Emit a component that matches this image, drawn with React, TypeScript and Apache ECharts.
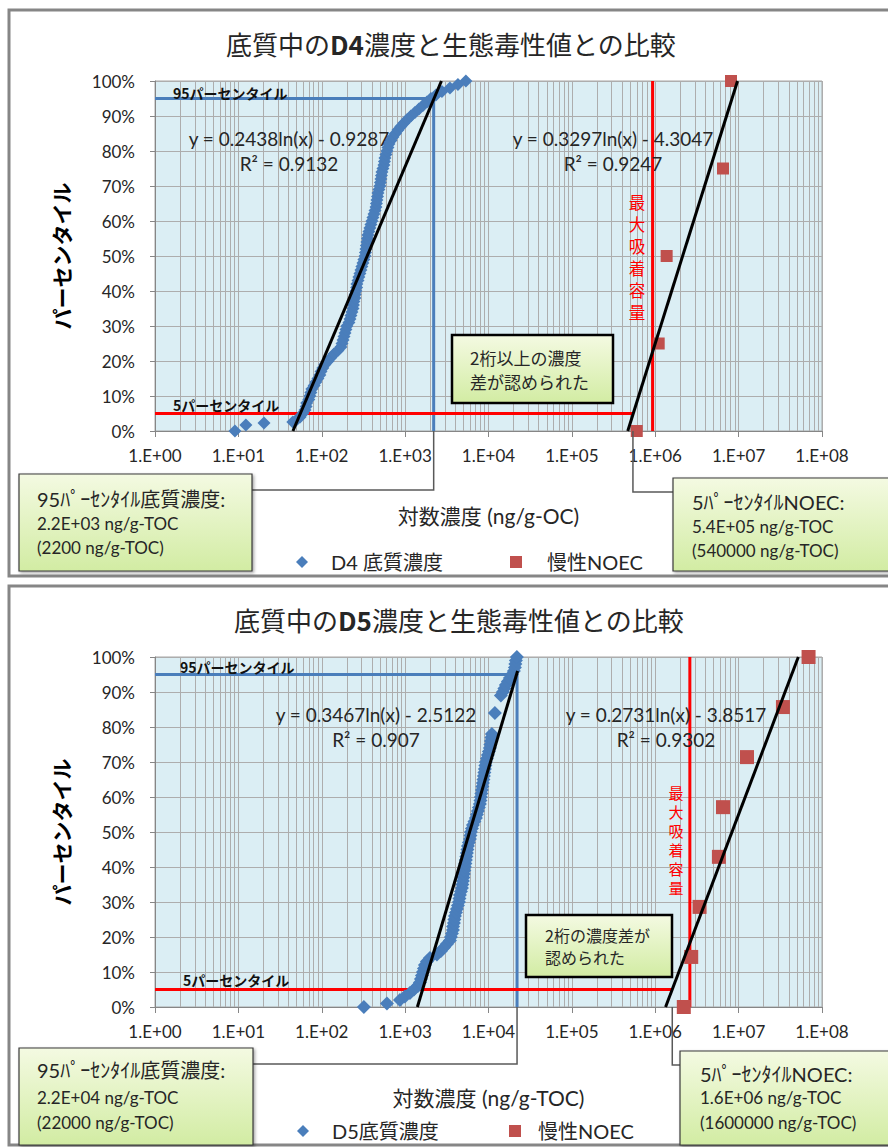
import React, { useEffect, useRef } from "react";
import * as echarts from "echarts";

const LAT = "Lato, 'Noto Sans CJK JP', sans-serif";
const JP = "'Noto Sans CJK JP', sans-serif";

// ---- axis ticks ----
const xDecadeExps = [0, 1, 2, 3, 4, 5, 6, 7];
const minorMultipliers = [2, 3, 4, 5, 6, 7, 8, 9];

// ---- D4 data: [concentration (ng/g-OC), percentile] ----
const d4Sediment: [number, number][] = [
  [9.1, 0], [12.3, 0.017], [20.3, 0.023], [45, 0.026], [49, 0.03], [55, 0.04], [59, 0.05],
  [63, 0.06], [65, 0.07], [66, 0.08], [70, 0.09], [72, 0.1], [74, 0.11], [76, 0.12],
  [81, 0.13], [85, 0.14], [90, 0.15], [95, 0.16], [98, 0.17], [103, 0.18], [109, 0.19],
  [119, 0.2], [129, 0.21], [140, 0.22], [156, 0.23], [170, 0.24], [175, 0.25], [180, 0.26],
  [185, 0.27], [190, 0.28], [195, 0.29], [200, 0.3], [212, 0.31], [218, 0.32], [224, 0.33],
  [230, 0.34], [237, 0.35], [240, 0.36], [243, 0.37], [250, 0.38], [252, 0.39], [257, 0.4],
  [262, 0.41], [264, 0.42], [272, 0.43], [279, 0.44], [287, 0.45], [295, 0.46], [303, 0.47],
  [312, 0.48], [320, 0.49], [330, 0.5], [334, 0.51], [339, 0.52], [343, 0.53], [348, 0.54],
  [353, 0.55], [358, 0.56], [368, 0.57], [378, 0.58], [389, 0.59], [400, 0.6], [411, 0.61],
  [423, 0.62], [435, 0.63], [447, 0.64], [453, 0.65], [459, 0.66], [466, 0.67], [472, 0.68],
  [485, 0.69], [499, 0.7], [506, 0.71], [513, 0.72], [520, 0.73], [527, 0.74], [542, 0.75],
  [557, 0.76], [565, 0.77], [573, 0.78], [589, 0.79], [605, 0.8], [622, 0.81], [640, 0.82],
  [676, 0.83], [714, 0.84], [765, 0.85], [820, 0.86], [890, 0.87], [967, 0.88], [1060, 0.89],
  [1173, 0.9], [1311, 0.91], [1464, 0.92], [1635, 0.93], [1826, 0.94],
  [2039, 0.95], [2341, 0.96], [2762, 0.97], [3445, 0.98], [4297, 0.99], [5358, 1.0],
];
const d4Noec: [number, number][] = [
  [6.0e5, 0], [1.1e6, 0.25], [1.37e6, 0.5], [6.5e6, 0.75], [8.1e6, 1.0],
];
const d4SedTrend: [number, number][] = [[45.1, 0], [2726, 1]];
const d4NoecTrend: [number, number][] = [[4.68e5, 0], [9.7e6, 1]];
const d4P95 = 2200;
const d4P5Noec = 5.4e5;
const d4MaxAdsorption = 9.3e5;

// ---- D5 data: [concentration (ng/g-TOC), percentile] ----
const d5Sediment: [number, number][] = [
  [320, 0], [605, 0.01], [866, 0.02], [994, 0.03], [1142, 0.04], [1275, 0.05], [1424, 0.06],
  [1505, 0.07], [1547, 0.08], [1590, 0.09], [1635, 0.1], [1680, 0.11], [1728, 0.12],
  [1826, 0.13], [1984, 0.14], [2406, 0.15], [2687, 0.16], [2920, 0.17], [3172, 0.18],
  [3445, 0.19], [3541, 0.2], [3640, 0.21], [3743, 0.22], [3760, 0.23], [3847, 0.24],
  [3900, 0.25], [3955, 0.26], [4070, 0.27], [4180, 0.28], [4300, 0.29], [4418, 0.3],
  [4480, 0.31], [4542, 0.32], [4670, 0.33], [4800, 0.34], [4860, 0.35], [4932, 0.36],
  [5000, 0.37], [5070, 0.38], [5140, 0.39], [5213, 0.4], [5285, 0.41], [5358, 0.42],
  [5430, 0.43], [5508, 0.44], [5585, 0.45], [5663, 0.46], [5820, 0.47], [5984, 0.48],
  [6070, 0.49], [6152, 0.5], [6330, 0.51], [6502, 0.52], [6780, 0.53], [7063, 0.54],
  [7260, 0.55], [7464, 0.56], [7670, 0.57], [7886, 0.58], [8000, 0.59], [8108, 0.6],
  [8220, 0.61], [8335, 0.62], [8450, 0.63], [8568, 0.64], [8690, 0.65], [8808, 0.66],
  [8930, 0.67], [9055, 0.68], [9180, 0.69], [9308, 0.7], [9570, 0.71], [9835, 0.72],
  [10110, 0.73], [10394, 0.74], [10540, 0.75], [10685, 0.76], [10830, 0.77], [10985, 0.78],
  [11930, 0.84], [14082, 0.89], [14880, 0.9], [15500, 0.91], [16170, 0.92], [17085, 0.93],
  [18057, 0.94], [19081, 0.95], [20165, 0.96], [20730, 0.97], [21000, 0.98],
  [21310, 0.99], [21903, 1.0],
];
const d5Noec: [number, number][] = [
  [2.2e6, 0], [2.7e6, 0.143], [3.4e6, 0.286], [5.8e6, 0.429], [6.5e6, 0.571],
  [1.26e7, 0.714], [3.4e7, 0.857], [6.9e7, 1.0],
];
const d5SedTrend: [number, number][] = [[1403, 0], [22340, 0.96]];
const d5NoecTrend: [number, number][] = [[1.33e6, 0], [5.2e7, 1]];
const d5P95 = 22000;
const d5P5Noec = 1.6e6;
const d5MaxAdsorption = 2.6e6;

// ---- text ----
const adsorptionChars = ["最", "大", "吸", "着", "容", "量"];
const d4Texts = {
  titleBold: "D4",
  xName: "対数濃度 (ng/g-OC)",
  sedName: "D4 底質濃度",
  noecName: "慢性NOEC",
  eqSed: ["y = 0.2438ln(x) - 0.9287", "R² = 0.9132"],
  eqNoec: ["y = 0.3297ln(x) - 4.3047", "R² = 0.9247"],
  center: ["2桁以上の濃度", "差が認められた"],
  left: ["95ﾊﾟｰｾﾝﾀｲﾙ底質濃度:", "2.2E+03 ng/g-TOC", "(2200 ng/g-TOC)"],
  right: ["5ﾊﾟｰｾﾝﾀｲﾙNOEC:", "5.4E+05 ng/g-TOC", "(540000 ng/g-TOC)"],
};
const d5Texts = {
  titleBold: "D5",
  xName: "対数濃度 (ng/g-TOC)",
  sedName: "D5底質濃度",
  noecName: "慢性NOEC",
  eqSed: ["y = 0.3467ln(x) - 2.5122", "R² = 0.907"],
  eqNoec: ["y = 0.2731ln(x) - 3.8517", "R² = 0.9302"],
  center: ["2桁の濃度差が", "認められた"],
  left: ["95ﾊﾟｰｾﾝﾀｲﾙ底質濃度:", "2.2E+04 ng/g-TOC", "(22000 ng/g-TOC)"],
  right: ["5ﾊﾟｰｾﾝﾀｲﾙNOEC:", "1.6E+06 ng/g-TOC", "(1600000 ng/g-TOC)"],
};

const BLUE = "#4A7EBB";
const RED_MARK = "#C0504D";
const GRIDLINE = "#adadad";
const AXIS = "#868686";
const TXT = "#262626";

const panels = [
  {
    data: { sed: d4Sediment, noec: d4Noec, sedTrend: d4SedTrend, noecTrend: d4NoecTrend, p95: d4P95, p5: d4P5Noec, maxAds: d4MaxAdsorption },
    t: d4Texts,
    L: {
      gridTop: 81, frame: [9, 10, 893, 566], titleLeft: 221, titleTop: 25,
      xNameGap: 74, sedSize: 13, noecSize: 12,
      legendTop: 552, legendSedLeft: 296, legendNoecLeft: 510, legendSedPad: 18, legendNoecPad: 20,
      eqSed: [289, 138, 163], eqNoec: [613, 138, 163],
      lab95: [173, 93], lab5: [173, 405],
      ads: [637, 202, 22, 16.5],
      centerBox: [452, 335, 161, 68], centerText: [470, 357, 381, 17],
      leftBox: [19, 474, 233, 97], leftText: [37, 499, 523, 547],
      rightBox: [673, 478, 220, 93], rightText: [692, 502, 526, 550],
      leaderLeftY: 490, leaderRightY: 492,
    },
  },
  {
    data: { sed: d5Sediment, noec: d5Noec, sedTrend: d5SedTrend, noecTrend: d5NoecTrend, p95: d5P95, p5: d5P5Noec, maxAds: d5MaxAdsorption },
    t: d5Texts,
    L: {
      gridTop: 657, frame: [9, 586, 893, 559], titleLeft: 229, titleTop: 601,
      xNameGap: 80, sedSize: 14, noecSize: 14,
      legendTop: 1121, legendSedLeft: 297, legendNoecLeft: 509, legendSedPad: 18, legendNoecPad: 12,
      eqSed: [376, 714, 739], eqNoec: [666, 714, 739],
      lab95: [180, 667], lab5: [183, 980],
      ads: [676, 792, 19, 15],
      centerBox: [526, 915, 146, 62], centerText: [545, 935, 957, 16],
      leftBox: [19, 1048, 234, 97], leftText: [37, 1070, 1097, 1122],
      rightBox: [680, 1051, 213, 94], rightText: [700, 1074, 1097, 1122],
      leaderLeftY: 1064, leaderRightY: 1065,
    },
  },
];

const minorValues: number[] = [];
xDecadeExps.forEach((e) => minorMultipliers.forEach((m) => minorValues.push(m * Math.pow(10, e))));

function buildOption() {
  const grid: any[] = [];
  const xAxis: any[] = [];
  const yAxis: any[] = [];
  const series: any[] = [];
  const legend: any[] = [];
  const title: any[] = [];

  panels.forEach((p, i) => {
    const { data, t, L } = p;
    grid.push({
      left: 155, top: L.gridTop, width: 667, height: 350,
      show: true, backgroundColor: "#DBEEF4", borderColor: "#a6a6a6", borderWidth: 1,
      outerBoundsMode: "none",
    });
    xAxis.push({
      type: "log", logBase: 10, min: 1, max: 1e8, splitNumber: 8, gridIndex: i,
      axisLine: { show: true, onZero: false, lineStyle: { color: AXIS, width: 1 } },
      axisTick: { show: true, length: 6, lineStyle: { color: AXIS } },
      splitLine: { show: true, lineStyle: { color: GRIDLINE, width: 1 } },
      axisLabel: {
        margin: 16, fontSize: 17, fontFamily: LAT, color: TXT,
        formatter: (v: number) => "1.E+" + String(Math.round(Math.log10(v))).padStart(2, "0"),
      },
      name: t.xName, nameLocation: "middle", nameGap: L.xNameGap,
      nameTextStyle: { fontSize: 21, fontFamily: LAT, color: TXT },
    });
    yAxis.push({
      type: "value", min: 0, max: 1, interval: 0.1, gridIndex: i,
      axisLine: { show: true, lineStyle: { color: AXIS, width: 1 } },
      axisTick: { show: true, length: 5, lineStyle: { color: AXIS } },
      splitLine: { show: true, lineStyle: { color: GRIDLINE, width: 1 } },
      axisLabel: {
        margin: 20, fontSize: 17, fontFamily: LAT, color: TXT,
        formatter: (v: number) => Math.round(v * 100) + "%",
      },
      name: "パーセンタイル", nameLocation: "middle", nameGap: 84,
      nameTextStyle: { fontSize: 21, fontFamily: JP, fontWeight: "bold", color: "#000" },
    });

    const ax = { xAxisIndex: i, yAxisIndex: i };
    // minor log grid lines (kept beneath every mark)
    series.push({
      type: "line", ...ax, data: [[1, 0]], symbol: "none", silent: true,
      lineStyle: { width: 0, opacity: 0 }, z: 1,
      markLine: {
        z: 1, silent: true, symbol: ["none", "none"], label: { show: false }, animation: false,
        lineStyle: { color: GRIDLINE, width: 1, type: "solid" },
        emphasis: { disabled: true },
        data: minorValues.map((v) => ({ xAxis: v })),
      },
    });
    // reference lines
    series.push({
      type: "line", ...ax, symbol: "none", silent: true, z: 2,
      lineStyle: { color: BLUE, width: 3 },
      data: [[1, 0.95], [data.p95, 0.95], [data.p95, 0]],
    });
    series.push({
      type: "line", ...ax, symbol: "none", silent: true, z: 2,
      lineStyle: { color: "#FF0000", width: 3 },
      data: [[1, 0.05], [data.p5, 0.05]],
    });
    series.push({
      type: "line", ...ax, symbol: "none", silent: true, z: 2,
      lineStyle: { color: "#FF0000", width: 3 },
      data: [[data.maxAds, 0], [data.maxAds, 1]],
    });
    // points
    series.push({
      type: "scatter", name: t.sedName, ...ax, symbol: "diamond", symbolSize: L.sedSize,
      itemStyle: { color: BLUE, opacity: 1 }, data: data.sed, z: 6, clip: false,
    });
    series.push({
      type: "scatter", name: t.noecName, ...ax, symbol: "rect", symbolSize: L.noecSize,
      itemStyle: { color: RED_MARK, opacity: 1 }, data: data.noec, z: 6, clip: false,
    });
    // trend lines
    series.push({
      type: "line", ...ax, symbol: "none", silent: true, z: 7,
      lineStyle: { color: "#000", width: 3 }, data: data.sedTrend,
    });
    series.push({
      type: "line", ...ax, symbol: "none", silent: true, z: 7,
      lineStyle: { color: "#000", width: 3 }, data: data.noecTrend,
    });

    legend.push({
      left: L.legendSedLeft, top: L.legendTop, itemWidth: 12, itemHeight: 12, padding: 0,
      selectedMode: false,
      data: [{ name: t.sedName, icon: "diamond", itemStyle: { color: BLUE, opacity: 1 } }],
      textStyle: { fontSize: 20, fontFamily: LAT, color: TXT, padding: [0, 0, 0, L.legendSedPad] },
    });
    legend.push({
      left: L.legendNoecLeft, top: L.legendTop, itemWidth: 12, itemHeight: 12, padding: 0,
      selectedMode: false,
      data: [{ name: t.noecName, icon: "rect", itemStyle: { color: RED_MARK, opacity: 1 } }],
      textStyle: { fontSize: 20, fontFamily: LAT, color: TXT, padding: [0, 0, 0, L.legendNoecPad] },
    });

    title.push({
      text: "底質中の{b|" + t.titleBold + "}濃度と生態毒性値との比較",
      left: L.titleLeft, top: L.titleTop,
      textStyle: {
        fontSize: 26, fontFamily: JP, fontWeight: "normal", color: TXT,
        rich: { b: { fontSize: 26, fontFamily: JP, fontWeight: "bold", color: TXT } },
      },
    });
  });

  return { animation: false, grid, xAxis, yAxis, series, legend, title };
}

function boxFill() {
  return new echarts.graphic.LinearGradient(0, 0, 0, 1, [
    { offset: 0, color: "#F4FAE2" },
    { offset: 1, color: "#D2ECA3" },
  ]);
}

function buildGraphics(chart: any) {
  const g: any[] = [];
  panels.forEach((p, i) => {
    const { data, t, L } = p;
    const xp = (v: number) => chart.convertToPixel({ xAxisIndex: i }, v) as number;
    const axisY = L.gridTop + 350;

    g.push({
      type: "rect", z: 100, silent: true,
      shape: { x: L.frame[0], y: L.frame[1], width: L.frame[2], height: L.frame[3] },
      style: { fill: "none", stroke: "#868686", lineWidth: 3 },
    });

    const txt = (x: number, y: number, text: string, extra: any = {}) => ({
      type: "text", z: 110, silent: true,
      style: { x, y, text, fill: TXT, fontSize: 16, fontFamily: LAT, align: "left", verticalAlign: "middle", ...extra },
    });

    // equations
    g.push(txt(L.eqSed[0], L.eqSed[1], t.eqSed[0], { align: "center", fontSize: 19 }));
    g.push(txt(L.eqSed[0], L.eqSed[2], t.eqSed[1], { align: "center", fontSize: 19 }));
    g.push(txt(L.eqNoec[0], L.eqNoec[1], t.eqNoec[0], { align: "center", fontSize: 19 }));
    g.push(txt(L.eqNoec[0], L.eqNoec[2], t.eqNoec[1], { align: "center", fontSize: 19 }));

    // percentile labels
    g.push(txt(L.lab95[0], L.lab95[1], "95パーセンタイル", { fontFamily: JP, fontWeight: "bold", fontSize: 14, fill: "#111" }));
    g.push(txt(L.lab5[0], L.lab5[1], "5パーセンタイル", { fontFamily: JP, fontWeight: "bold", fontSize: 14, fill: "#111" }));

    // max adsorption capacity (vertical, one glyph per row)
    adsorptionChars.forEach((c, k) => {
      g.push(txt(L.ads[0], L.ads[1] + k * L.ads[2], c, {
        fontFamily: JP, fontSize: L.ads[3], fill: "#FF0000", align: "center",
      }));
    });

    // leaders
    const xl = xp(data.p95);
    const xr = xp(data.p5);
    g.push({
      type: "polyline", z: 90, silent: true,
      shape: { points: [[xl, axisY], [xl, L.leaderLeftY], [L.leftBox[0] + L.leftBox[2], L.leaderLeftY]] },
      style: { stroke: "#595959", lineWidth: 1.5, fill: null },
    });
    g.push({
      type: "polyline", z: 90, silent: true,
      shape: { points: [[xr, axisY], [xr, L.leaderRightY], [L.rightBox[0], L.leaderRightY]] },
      style: { stroke: "#595959", lineWidth: 1.5, fill: null },
    });

    // center box
    g.push({
      type: "rect", z: 105, silent: true,
      shape: { x: L.centerBox[0], y: L.centerBox[1], width: L.centerBox[2], height: L.centerBox[3] },
      style: { fill: boxFill(), stroke: "#000", lineWidth: 2.5 },
    });
    g.push(txt(L.centerText[0], L.centerText[1], t.center[0], { fontFamily: JP, fontSize: L.centerText[3] }));
    g.push(txt(L.centerText[0], L.centerText[2], t.center[1], { fontFamily: JP, fontSize: L.centerText[3] }));

    // callout boxes
    const callout = (box: number[], tx: number[], lines: string[]) => {
      g.push({
        type: "rect", z: 105, silent: true,
        shape: { x: box[0], y: box[1], width: box[2], height: box[3] },
        style: {
          fill: boxFill(), stroke: "#3a3a3a", lineWidth: 1.2,
          shadowBlur: 3, shadowOffsetX: 1.5, shadowOffsetY: 1.5, shadowColor: "rgba(0,0,0,0.35)",
        },
      });
      lines.forEach((s, k) => g.push(txt(tx[0], tx[1 + k], s, { fontSize: k === 0 ? 20 : 17 })));
    };
    callout(L.leftBox, L.leftText, t.left);
    callout(L.rightBox, L.rightText, t.right);
  });
  return g;
}

export default function App() {
  const ref = useRef<HTMLDivElement>(null);
  useEffect(() => {
    const chart = echarts.init(ref.current!, null, { renderer: "svg" });
    chart.setOption(buildOption());
    chart.setOption({ graphic: buildGraphics(chart) });
    return () => chart.dispose();
  }, []);
  return (
    <div
      ref={ref}
      style={{ position: "absolute", left: 0, top: 0, width: 888, height: 1147, background: "#fff" }}
    />
  );
}
